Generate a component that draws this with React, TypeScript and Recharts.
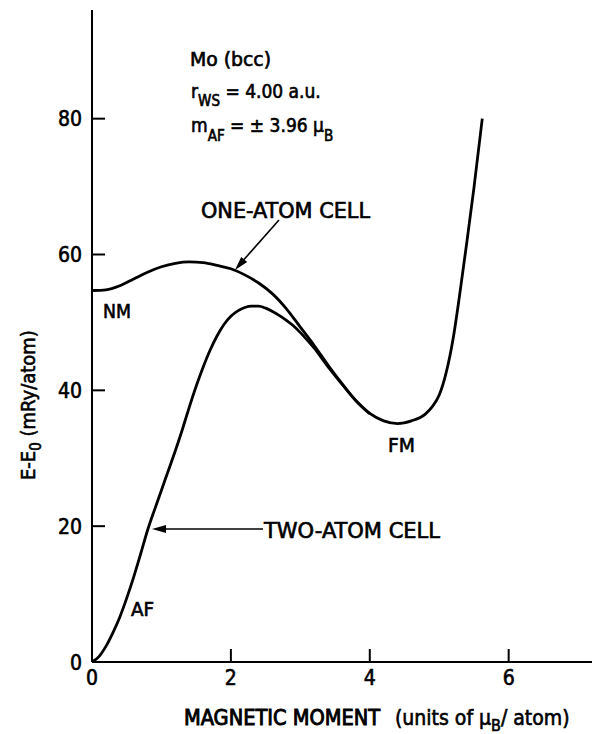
import { LineChart, Line, XAxis, YAxis } from "recharts";

// One-atom cell (NM -> FM)
const oneAtomMoment = [
  0, 0.2, 0.4, 0.6, 0.8, 1.0, 1.2, 1.4, 1.6, 1.8, 2.0, 2.2, 2.4, 2.6, 2.8, 3.0,
  3.2, 3.4, 3.6, 3.8, 4.0, 4.2, 4.4, 4.6, 4.8, 4.9, 5.0, 5.1, 5.2, 5.3, 5.4, 5.5,
  5.62,
];
const oneAtomEnergy = [
  54.7, 54.8, 55.4, 56.4, 57.4, 58.2, 58.7, 58.9, 58.8, 58.4, 57.9, 57.0, 55.8,
  54.2, 52.0, 49.3, 46.6, 43.7, 41.0, 38.5, 36.6, 35.5, 35.1, 35.5, 36.5, 37.6,
  39.3, 42.6, 47.6, 54.5, 62.0, 69.8, 80.0,
];

// Two-atom cell (AF branch)
const twoAtomMoment = [
  0, 0.1, 0.2, 0.3, 0.4, 0.5, 0.6, 0.7, 0.8, 0.9, 1.0, 1.1, 1.2, 1.3, 1.4, 1.5,
  1.6, 1.7, 1.8, 1.9, 2.0, 2.1, 2.2, 2.3, 2.4, 2.5, 2.6, 2.7, 2.8, 2.9, 3.0, 3.1,
  3.2, 3.4, 3.6, 3.8, 4.0,
];
const twoAtomEnergy = [
  0, 0.8, 2.3, 4.3, 6.6, 9.4, 12.5, 15.9, 19.4, 22.4, 25.3, 28.2, 31.1, 34.2,
  37.5, 40.6, 43.4, 45.9, 48.0, 49.7, 50.9, 51.7, 52.2, 52.4, 52.4, 52.1, 51.6,
  51.0, 50.3, 49.5, 48.5, 47.4, 46.2, 43.45, 40.9, 38.45, 36.55,
];

const xTicks = [0, 2, 4, 6];
const yTicks = [0, 20, 40, 60, 80];
const topTicks = [2, 4, 6];
const rightTicks = [20, 40, 60, 80];

const oneAtomData = oneAtomMoment.map((m, i) => ({ m, e: oneAtomEnergy[i] }));
const twoAtomData = twoAtomMoment.map((m, i) => ({ m, e: twoAtomEnergy[i] }));

const FONT = "'Liberation Sans Narrow', 'DejaVu Sans Condensed', 'Liberation Sans', sans-serif";
const TICK_LEN = 13;
const heavy = { stroke: "#000", strokeWidth: 0.6 };

// eslint-disable-next-line @typescript-eslint/no-explicit-any
const BottomTick = ({ x, y, payload }: any) => (
  <g>
    <line x1={x} y1={y} x2={x} y2={y - TICK_LEN} stroke="#000" strokeWidth={2} />
    <text x={x} y={y + 23} textAnchor="middle" fontSize={21} fontFamily={FONT} fill="#000" {...heavy}>
      {payload.value}
    </text>
  </g>
);

// eslint-disable-next-line @typescript-eslint/no-explicit-any
const LeftTick = ({ x, y, payload }: any) => (
  <g>
    <line x1={x} y1={y} x2={x + TICK_LEN} y2={y} stroke="#000" strokeWidth={2} />
    <text x={x - 10} y={y + 7.5} textAnchor="end" fontSize={21} fontFamily={FONT} fill="#000" {...heavy}>
      {payload.value}
    </text>
  </g>
);

// eslint-disable-next-line @typescript-eslint/no-explicit-any
const TopTick = ({ x, y }: any) => (
  <line x1={x} y1={y} x2={x} y2={y + TICK_LEN} stroke="#000" strokeWidth={2} />
);

// eslint-disable-next-line @typescript-eslint/no-explicit-any
const RightTick = ({ x, y }: any) => (
  <line x1={x} y1={y} x2={x - TICK_LEN} y2={y} stroke="#000" strokeWidth={2} />
);

const axisLine = { stroke: "#000", strokeWidth: 2 };

const App = () => {
  return (
    <div style={{ position: "absolute", left: 0, top: 0, width: 594, height: 734, background: "#fff" }}>
      <LineChart width={594} height={734} margin={{ top: 10, right: 2, left: 0, bottom: 0 }}>
        <XAxis
          type="number"
          dataKey="m"
          domain={[0, 7.2]}
          ticks={xTicks}
          interval={0}
          allowDataOverflow
          height={72}
          tickSize={0}
          tickMargin={0}
          tickLine={false}
          axisLine={axisLine}
          tick={<BottomTick />}
        />
        <XAxis
          xAxisId="top"
          orientation="top"
          type="number"
          domain={[0, 7.2]}
          ticks={topTicks}
          interval={0}
          allowDataOverflow
          height={0}
          tickSize={0}
          tickMargin={0}
          tickLine={false}
          axisLine={axisLine}
          tick={<TopTick />}
        />
        <YAxis
          type="number"
          domain={[0, 96]}
          ticks={yTicks}
          interval={0}
          allowDataOverflow
          width={92}
          tickSize={0}
          tickMargin={0}
          tickLine={false}
          axisLine={axisLine}
          tick={<LeftTick />}
        />
        <YAxis
          yAxisId="right"
          orientation="right"
          type="number"
          domain={[0, 96]}
          ticks={rightTicks}
          interval={0}
          allowDataOverflow
          width={0}
          tickSize={0}
          tickMargin={0}
          tickLine={false}
          axisLine={axisLine}
          tick={<RightTick />}
        />
        <Line
          data={oneAtomData}
          dataKey="e"
          type="monotone"
          stroke="#000"
          strokeWidth={2.8}
          dot={false}
          isAnimationActive={false}
        />
        <Line
          data={twoAtomData}
          dataKey="e"
          type="monotone"
          stroke="#000"
          strokeWidth={2.8}
          dot={false}
          isAnimationActive={false}
        />
      </LineChart>

      {/* labels, arrows and axis titles */}
      <svg
        width={594}
        height={734}
        style={{ position: "absolute", left: 0, top: 0, pointerEvents: "none" }}
        fontFamily={FONT}
        fill="#000"
      >
        <g {...heavy}>
          <text x={190} y={66} fontSize={19} textLength={81} lengthAdjust="spacingAndGlyphs">
            Mo (bcc)
          </text>
          <text x={191} y={98} fontSize={19}>
            r<tspan fontSize={15} dy={8}>WS</tspan>
            <tspan dy={-8}> = 4.00 a.u.</tspan>
          </text>
          <text x={191} y={132} fontSize={19}>
            m<tspan fontSize={15} dy={9}>AF</tspan>
            <tspan dy={-9}> = ± 3.96 μ</tspan>
            <tspan fontSize={15} dy={9}>B</tspan>
          </text>

          <text x={201} y={218} fontSize={21} textLength={169} lengthAdjust="spacingAndGlyphs">
            ONE-ATOM CELL
          </text>

          <text x={103} y={318} fontSize={19} textLength={28} lengthAdjust="spacingAndGlyphs">
            NM
          </text>
          <text x={388} y={452} fontSize={20} textLength={27} lengthAdjust="spacingAndGlyphs">
            FM
          </text>
          <text x={131} y={616} fontSize={19} textLength={23} lengthAdjust="spacingAndGlyphs">
            AF
          </text>

          <text x={264} y={538} fontSize={21} textLength={176} lengthAdjust="spacingAndGlyphs">
            TWO-ATOM CELL
          </text>

          <text x={184} y={725} fontSize={21}>
            <tspan textLength={196} lengthAdjust="spacingAndGlyphs" strokeWidth={0.9}>
              MAGNETIC MOMENT
            </tspan>
            <tspan x={395}>(units of μ</tspan>
            <tspan fontSize={16} dy={6}>B</tspan>
            <tspan dy={-6}>/ atom)</tspan>
          </text>

          <text transform="translate(35 480) rotate(-90)" fontSize={20}>
            E-E<tspan fontSize={15} dy={6}>0</tspan>
            <tspan dy={-6}> (mRy/atom)</tspan>
          </text>
        </g>

        <line x1={279} y1={220} x2={244} y2={259.5} stroke="#000" strokeWidth={1.6} />
        <polygon points="235,270 247.2,262.1 241.2,256.9" fill="#000" />
        <line x1={263} y1={529} x2={165} y2={529} stroke="#000" strokeWidth={1.6} />
        <polygon points="152,529 166,525 166,533" fill="#000" />
      </svg>
    </div>
  );
};

export default App;
